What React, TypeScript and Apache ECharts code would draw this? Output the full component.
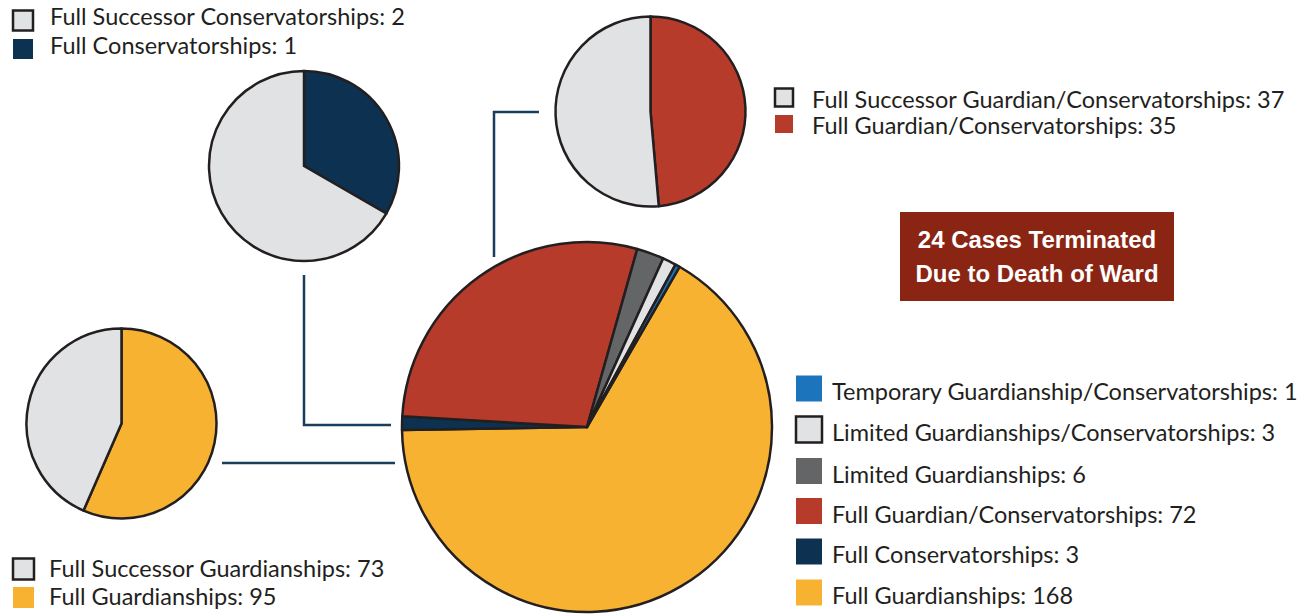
import React, { useEffect, useRef } from "react";
import * as echarts from "echarts";

// ---- data ----
const mainCategories = [
  "Full Guardianships",
  "Full Conservatorships",
  "Full Guardian/Conservatorships",
  "Limited Guardianships",
  "Limited Guardianships/Conservatorships",
  "Temporary Guardianship/Conservatorships",
];
const mainValues = [168, 3, 72, 6, 3, 1];
const mainColors = ["#F8B232", "#0D3251", "#B63B2A", "#646567", "#E1E2E4", "#1C74BC"];

const consCategories = ["Full Conservatorships", "Full Successor Conservatorships"];
const consValues = [1, 2];
const consColors = ["#0D3251", "#E1E2E4"];

const gcCategories = ["Full Guardian/Conservatorships", "Full Successor Guardian/Conservatorships"];
const gcValues = [35, 37];
const gcColors = ["#B63B2A", "#E1E2E4"];

const guardCategories = ["Full Guardianships", "Full Successor Guardianships"];
const guardValues = [95, 73];
const guardColors = ["#F8B232", "#E1E2E4"];

const calloutLines = ["24 Cases Terminated", "Due to Death of Ward"];

// ---- styling ----
const INK = "#231F20";
const LINE = "#1A3D5C";
const LIGHT = "#E1E2E4";
const FONT = "Lato, 'Open Sans', sans-serif";
const FS = 23.5;

type Item = { name: string; value: number; color: string };

function zipItems(names: string[], values: number[], colors: string[]): Item[] {
  return names.map((n, i) => ({ name: n, value: values[i], color: colors[i] }));
}

function pieSeries(items: Item[], center: number[], radius: number, startAngle: number) {
  return {
    type: "pie",
    center,
    radius,
    startAngle,
    clockwise: true,
    silent: true,
    avoidLabelOverlap: false,
    label: { show: false },
    labelLine: { show: false },
    emphasis: { disabled: true },
    itemStyle: { borderColor: INK, borderWidth: 2.5 },
    data: items.map((d) => ({ name: d.name, value: d.value, itemStyle: { color: d.color } })),
  };
}

function legendBlock(
  items: Item[],
  squareX: number,
  size: number,
  textX: number,
  textYs: number[],
  squareOffset: number
) {
  const els: any[] = [];
  items.forEach((d, i) => {
    const cy = textYs[i] + squareOffset;
    const bordered = d.color === LIGHT;
    els.push({
      type: "rect",
      silent: true,
      shape: { x: squareX, y: cy - size / 2, width: size, height: size },
      style: bordered
        ? { fill: d.color, stroke: INK, lineWidth: 2.5 }
        : { fill: d.color },
    });
    els.push({
      type: "text",
      silent: true,
      x: textX,
      y: textYs[i],
      style: {
        text: `${d.name}: ${d.value}`,
        fill: INK,
        font: `${FS}px ${FONT}`,
        align: "left",
        verticalAlign: "middle",
      },
    });
  });
  return els;
}

export default function App() {
  const ref = useRef<HTMLDivElement>(null);

  useEffect(() => {
    document.body.style.margin = "0";
    if (!ref.current) return;
    const chart = echarts.init(ref.current, undefined, { renderer: "svg" });

    const mainItems = zipItems(mainCategories, mainValues, mainColors);
    const consItems = zipItems(consCategories, consValues, consColors);
    const gcItems = zipItems(gcCategories, gcValues, gcColors);
    const guardItems = zipItems(guardCategories, guardValues, guardColors);

    const graphics: any[] = [
      {
        type: "polyline",
        silent: true,
        shape: { points: [[539, 112], [494, 112], [494, 257]] },
        style: { stroke: LINE, lineWidth: 2.5, fill: "none" },
      },
      {
        type: "polyline",
        silent: true,
        shape: { points: [[304, 275], [304, 425], [391, 425]] },
        style: { stroke: LINE, lineWidth: 2.5, fill: "none" },
      },
      {
        type: "line",
        silent: true,
        shape: { x1: 222, y1: 463, x2: 395, y2: 463 },
        style: { stroke: LINE, lineWidth: 2.5 },
      },
      ...legendBlock([consItems[1], consItems[0]], 13, 20, 50, [16, 44.5], 4.5),
      ...legendBlock([gcItems[1], gcItems[0]], 775, 18, 812, [98.5, 125], -1),
      ...legendBlock([guardItems[1], guardItems[0]], 13, 21, 49, [567.5, 596], 1.5),
      ...legendBlock([...mainItems].reverse(), 796, 26, 832, [391, 432, 473.5, 513.5, 554, 595], -2.5),
      {
        type: "rect",
        silent: true,
        shape: { x: 900, y: 212, width: 274, height: 89 },
        style: { fill: "#8A2514" },
      },
      {
        type: "text",
        silent: true,
        x: 1037,
        y: 256,
        style: {
          text: calloutLines.join("\n"),
          fill: "#FFFFFF",
          font: "bold 24px 'Liberation Sans', Arial, sans-serif",
          lineHeight: 34,
          align: "center",
          verticalAlign: "middle",
        },
      },
    ];

    chart.setOption({
      animation: false,
      backgroundColor: "#FFFFFF",
      series: [
        pieSeries(mainItems, [587, 427], 185, 60),
        pieSeries(consItems, [304, 166], 95, 90),
        pieSeries(gcItems, [650.5, 111.5], 95, 90),
        pieSeries(guardItems, [121.5, 423.5], 95, 90),
      ],
      graphic: graphics,
    });

    return () => chart.dispose();
  }, []);

  return <div ref={ref} style={{ width: 1301, height: 614 }} />;
}
